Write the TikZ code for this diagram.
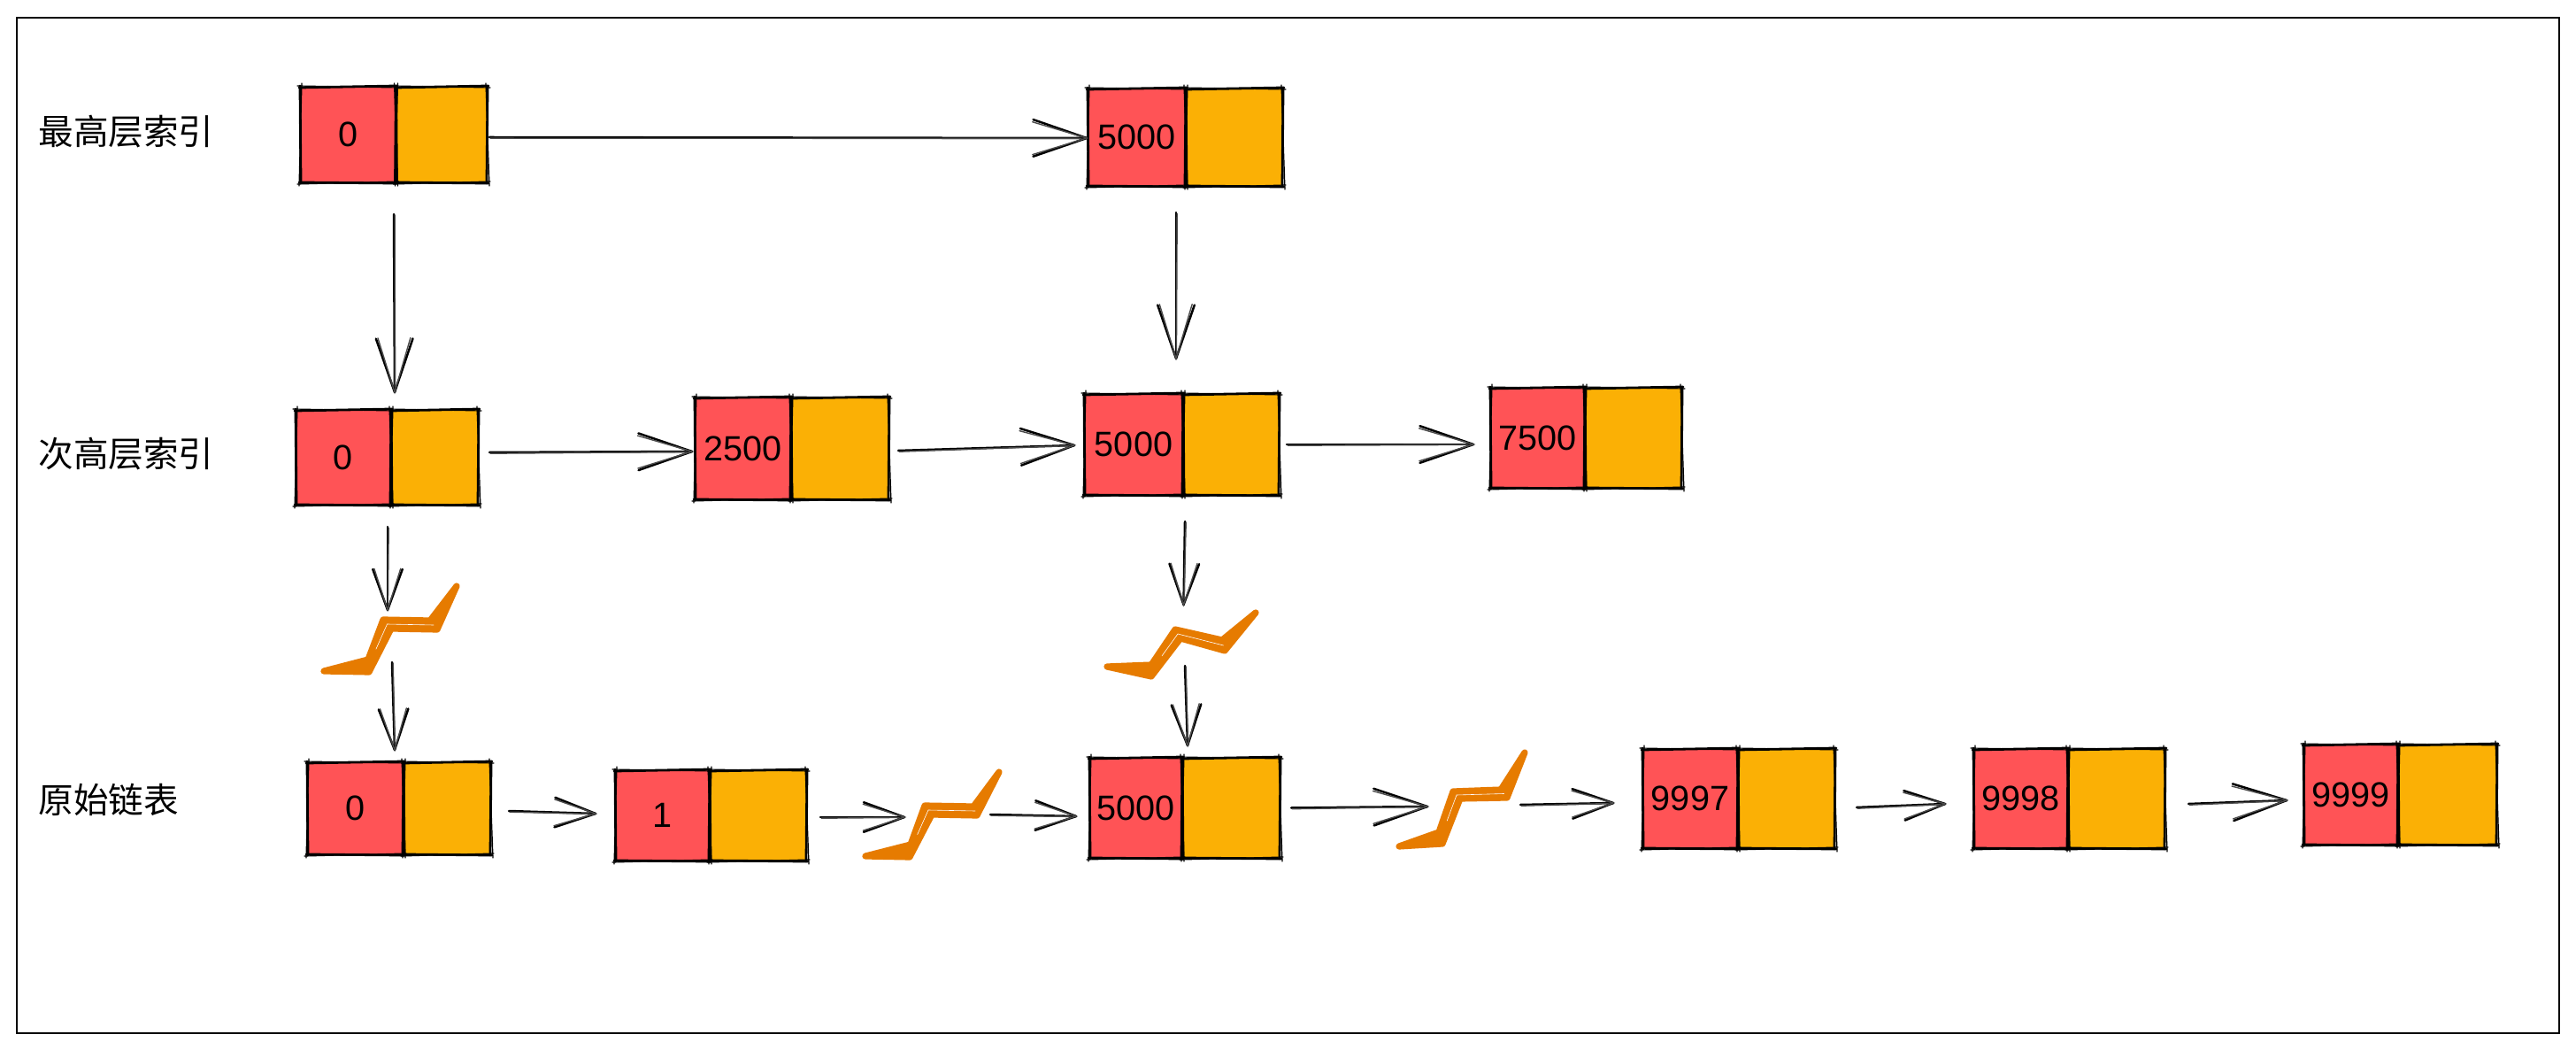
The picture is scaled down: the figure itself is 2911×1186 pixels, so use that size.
\documentclass[tikz,border=0pt]{standalone}
\usepackage{fontspec}
\setmainfont{Liberation Sans}
\newfontfamily\cjk{Noto Sans CJK SC}
\usetikzlibrary{calc}
\definecolor{cellred}{HTML}{FF5356}
\definecolor{cellorange}{HTML}{FBB005}
\definecolor{boltorange}{HTML}{E67B00}
\tikzset{
  cellbase/.style={inner sep=0pt,outer sep=0pt,draw=none,font=\fontsize{19.8pt}{24pt}\selectfont},
  redcell/.style={cellbase,fill=cellred},
  orangecell/.style={cellbase,fill=cellorange},
  skthick/.style={draw=black,line width=1.4pt,line cap=round},
  skthin/.style={draw=black,line width=0.6pt,line cap=round},
  conn/.style={draw=black,line width=1.25pt,line cap=round,line join=round},
  connthin/.style={draw=black!70,line width=0.7pt,line cap=round},
  rowlabel/.style={anchor=west,inner sep=0pt,font=\cjk\fontsize{19.8pt}{24pt}\selectfont},
  frameline/.style={draw=black,line width=1.1pt},
  boltshape/.style={draw=boltorange,fill=boltorange,line width=3.6pt,line join=round,line cap=round},
  boltgap/.style={draw=white,line width=0.3pt,line cap=round},
}
% sketchy outline round a named node
\newcommand{\roughbox}[1]{%
  \draw[skthick] ($(#1.north west)+(-1,1)$) -- ($(#1.north east)+(1,-1)$);
  \draw[skthick] ($(#1.south west)+(-1,0)$) -- ($(#1.south east)+(1,1)$);
  \draw[skthick] ($(#1.north west)+(0,-1)$) -- ($(#1.south west)+(1,1)$);
  \draw[skthick] ($(#1.north east)+(0,0)$) -- ($(#1.south east)+(-1,1)$);
  \draw[skthin] ($(#1.north west)+(-3,-1)$) -- ($(#1.north east)+(3,1)$);
  \draw[skthin] ($(#1.south west)+(-3,2)$) -- ($(#1.south east)+(3,-1)$);
  \draw[skthin] ($(#1.north west)+(2,-4)$) -- ($(#1.south west)+(-1,4)$);
  \draw[skthin] ($(#1.north east)+(-2,-4)$) -- ($(#1.south east)+(2,4)$);
}
% name, x-left, x-mid, x-right, y-top, y-bottom, text
\newcommand{\cellpair}[7]{%
  \pgfmathsetmacro\wa{#3-#2}\pgfmathsetmacro\wb{#4-#3}\pgfmathsetmacro\hh{#6-#5}%
  \pgfmathsetmacro\cy{(#5+#6)/2}\pgfmathsetmacro\cxa{(#2+#3)/2}\pgfmathsetmacro\cxb{(#3+#4)/2}%
  \node[redcell,minimum width=\wa*0.5pt,minimum height=\hh*0.5pt] (#1a) at (\cxa,\cy) {#7};
  \node[orangecell,minimum width=\wb*0.5pt,minimum height=\hh*0.5pt] (#1b) at (\cxb,\cy) {};
  \roughbox{#1a}\roughbox{#1b}%
}
% start, end, barb length, barb angle
\newcommand{\skarrow}[4]{%
  \coordinate (S) at #1; \coordinate (E) at #2;
  \draw[conn] (S) -- (E);
  \draw[connthin] ($(S)+(1.2,1.2)$) -- ($(E)+(0.4,0.4)$);
  \draw[conn] ($(E)!#3!#4:(S)$) -- (E) -- ($(E)!#3!-#4:(S)$);
  \draw[connthin] ($(E)!#3!{#4-2}:(S)$) -- (E) -- ($(E)!#3!{-#4+2.5}:(S)$);
}
\newcommand{\bigarrow}[2]{\skarrow{#1}{#2}{32pt}{19}}
\newcommand{\smallarrow}[2]{\skarrow{#1}{#2}{24.5pt}{20}}
% eight outline points of a bolt: u1..u5 then l3 l2 l1
\newcommand{\bolt}[9]{%
  \coordinate (#1u1) at #2; \coordinate (#1u2) at #3; \coordinate (#1u3) at #4;
  \coordinate (#1u4) at #5; \coordinate (#1u5) at #6; \coordinate (#1l3) at #7;
  \coordinate (#1l2) at #8; \coordinate (#1l1) at #9;
  \draw[boltshape] (#1u1) -- (#1u2) -- (#1u3) -- (#1u4) -- (#1u5) -- (#1l3) -- (#1l2) -- (#1l1) -- cycle;
  \draw[boltgap] ($(#1u3)!.5!(#1l2)$) -- ($(#1u4)!.5!(#1l3)$);
  \draw[boltgap] ($(#1u3)!.5!(#1l2)$) -- ($($(#1u3)!.5!(#1l2)$)!.6!($(#1u2)!.5!(#1l1)$)$);
}
\begin{document}
\begin{tikzpicture}[x=0.5pt,y=-0.5pt]
\useasboundingbox (0,0) rectangle (2911,1186);
\fill[white] (0,0) rectangle (2911,1186);
% frame
\coordinate (fa) at (19,20); \coordinate (fb) at (2892,20);
\coordinate (fc) at (2892,1167); \coordinate (fd) at (19,1167);
\draw[frameline] (fa) -- (fb) -- (fc) -- (fd) -- cycle;
% row labels
\node[rowlabel] (lab1) at (43,149) {最高层索引};
\node[rowlabel] (lab2) at (43,513) {次高层索引};
\node[rowlabel] (lab3) at (43,903) {原始链表};
% cells
\cellpair{tz}{339}{447.5}{551}{98}{206}{0}
\cellpair{tf}{1229}{1340}{1450}{100}{210}{5000}
\cellpair{mz}{334}{442}{541}{463}{570}{0}
\cellpair{mt}{785}{894}{1005}{449}{564}{2500}
\cellpair{mf}{1225}{1337}{1446}{445}{559}{5000}
\cellpair{ms}{1684}{1791}{1901}{438}{551}{7500}
\cellpair{bz}{347}{456}{555}{861}{965}{0}
\cellpair{bo}{695}{802}{912}{870}{972}{1}
\cellpair{bf}{1231}{1336}{1447}{856}{969}{5000}
\cellpair{bx}{1856}{1964}{2074}{846}{958}{9997}
\cellpair{by}{2230}{2337}{2447}{846}{958}{9998}
\cellpair{bn}{2603}{2710}{2822}{841}{954}{9999}
% bolts
\bolt{p}{(366,758)}{(416,745)}{(433,700)}{(486,701)}{(516,662)}{(494,711)}{(442,710)}{(417,759)}
\bolt{q}{(1251,753)}{(1301,751)}{(1328,711)}{(1381,723)}{(1419,692)}{(1384,735)}{(1334,721)}{(1301,764)}
\bolt{r}{(978,967)}{(1029,954)}{(1045,910)}{(1100,911)}{(1129,872)}{(1104,921)}{(1053,920)}{(1028,968)}
\bolt{s}{(1581,956)}{(1626,940)}{(1642,894)}{(1696,892)}{(1723,850)}{(1703,901)}{(1650,902)}{(1630,953)}
% connectors
\bigarrow{($(tzb.east)+(2,3)$)}{($(tfa.west)+(-1,1)$)}
\bigarrow{($(tza.south east)+(-2.5,36)$)}{($(mza.north east)+(4,-20)$)}
\bigarrow{($(tfa.south east)+(-11,30)$)}{($(mfa.north east)+(-8,-40)$)}
\bigarrow{($(mzb.east)+(12,-5.5)$)}{($(mta.west)+(-3,3.5)$)}
\bigarrow{($(mtb.east)+(10,2.5)$)}{($(mfa.west)+(-11,1)$)}
\bigarrow{($(mfb.east)+(8,0)$)}{($(msa.west)+(-19,7.5)$)}
\smallarrow{($(mza.south east)+(-4,25)$)}{($(pu3)+(5,-11)$)}
\smallarrow{($(pl1)+(26,-11)$)}{($(bza.north east)+(-10,-14)$)}
\smallarrow{($(mfa.south east)+(2,30)$)}{($(qu3)+(9.5,-28)$)}
\smallarrow{($(ql2)+(5,31)$)}{($(bfa.north east)+(6,-14)$)}
\smallarrow{($(bzb.east)+(20,3)$)}{($(boa.west)+(-22,-2)$)}
\smallarrow{($(bob.east)+(15,2)$)}{($(ru3)+(-23,13)$)}
\smallarrow{($(rl3)+(15,-1)$)}{($(bfa.west)+(-15,9.5)$)}
\bigarrow{($(bfb.east)+(12,0)$)}{($(su3)+(-29,17)$)}
\smallarrow{($(sl3)+(15,8)$)}{($(bxa.west)+(-33,5)$)}
\smallarrow{($(bxb.east)+(24,10)$)}{($(bya.west)+(-32,6)$)}
\bigarrow{($(byb.east)+(26,6)$)}{($(bna.west)+(-19,6.5)$)}
\end{tikzpicture}
\end{document}
